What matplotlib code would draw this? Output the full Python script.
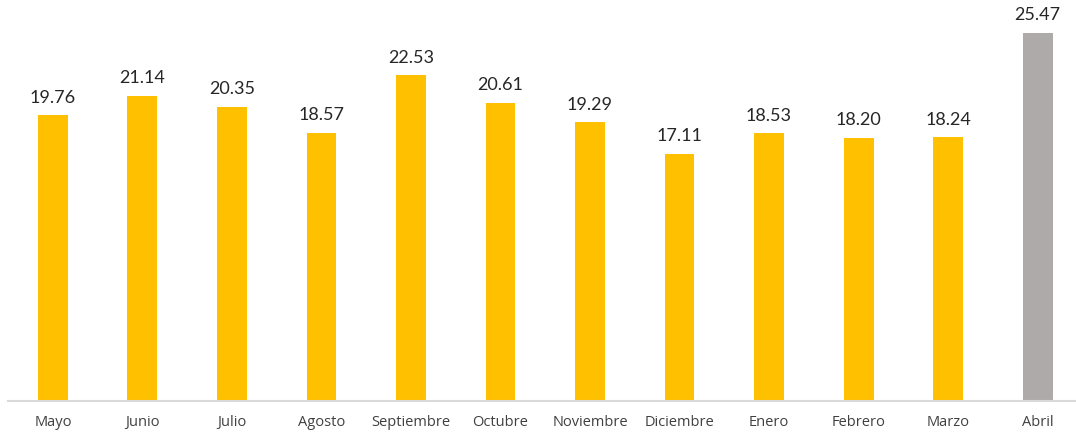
import matplotlib.pyplot as plt

meses = ['Mayo', 'Junio', 'Julio', 'Agosto', 'Septiembre', 'Octubre', 'Noviembre',
         'Diciembre', 'Enero', 'Febrero', 'Marzo', 'Abril']
valores = [19.76, 21.14, 20.35, 18.57, 22.53, 20.61, 19.29, 17.11, 18.53, 18.20, 18.24, 25.47]
colores = ['#FFC000'] * 11 + ['#AEAAAA']

fig = plt.figure(figsize=(10.76, 4.32), dpi=100)
ax = fig.add_axes([0, 31 / 432, 1, 401 / 432])

x = list(range(len(meses)))
barras = ax.bar(x, valores, width=0.335, color=colores)

# etiquetas de valor sobre cada barra
for b, v in zip(barras, valores):
    ax.annotate(f'{v:.2f}', (b.get_x() + b.get_width() / 2, v),
                xytext=(0, 7), textcoords='offset points',
                ha='center', va='bottom', fontsize=13, color='#262626', family='Lato')

ax.set_xlim(-0.592, 11.43)
ax.set_ylim(0, 401 / 14.45)
ax.set_xticks(x)
ax.set_xticklabels(meses, fontsize=10.5, color='#404040', family='Open Sans')
ax.tick_params(axis='x', length=0, pad=10)
ax.set_yticks([])
for s in ['top', 'right', 'left']:
    ax.spines[s].set_visible(False)
ax.spines['bottom'].set_color('#D9D9D9')
ax.spines['bottom'].set_linewidth(1.5)
ax.spines['bottom'].set_bounds(-0.5, 11.5)

plt.savefig('out.png', dpi=100)
